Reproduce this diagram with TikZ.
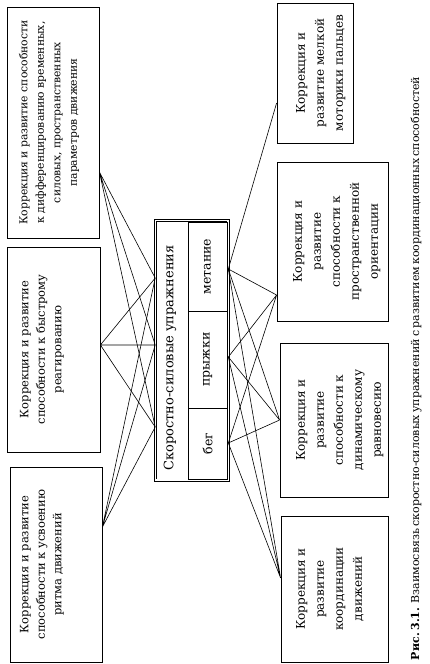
\documentclass[tikz,border=0pt]{standalone}
\usepackage{fontspec}
\setmainfont{DejaVu Serif}
\usetikzlibrary{positioning}

% text set inside a turned box: length, breadth, gap at the top, lines
\newcommand{\boxtext}[4]{\parbox[c][#2pt][t]{#1pt}{\centering\vspace*{#3pt}#4}}

\begin{document}
\begin{tikzpicture}[x=1pt, y=-1pt,
    lskill/.style={rectangle, draw, rotate=90, inner sep=0pt, line width=0.8pt, font=\fontsize{11.5}{16.5}\selectfont},
    rskill/.style={rectangle, draw, rotate=90, inner sep=0pt, line width=0.8pt, font=\fontsize{12}{19}\selectfont},
    frame/.style={rectangle, draw, double, double distance=1.8pt, line width=0.6pt, inner sep=0pt, minimum width=72.5pt, minimum height=259.5pt},
    cell/.style={rectangle, draw, rotate=90, inner sep=0pt, line width=0.6pt, minimum height=39pt, font=\fontsize{12.5}{15}\selectfont},
    link/.style={line width=0.6pt}]

  \useasboundingbox (0,0) rectangle (429,664);

  % left column
  \node[lskill, font=\fontsize{10.8}{16.5}\selectfont] (diff) at (53,122.5) {\boxtext{231}{92}{12}{Коррекция и развитие способности\\ к дифференцированию временных,\\ силовых, пространственных\\ параметров движения}};
  \node[lskill] (react) at (53.5,349.5) {\boxtext{205}{93}{13}{Коррекция и развитие\\ способности к быстрому\\ реагированию}};
  \node[lskill] (rhythm) at (56,564.5) {\boxtext{195}{92}{10}{Коррекция и развитие\\ способности к усвоению\\ ритма движений}};

  % centre
  \node[frame] (core) at (191.75,350.25) {};
  \node[rotate=90, font=\fontsize{13}{15}\selectfont] (title) at (170,358) {Скоростно-силовые упражнения};
  \node[cell, minimum width=89pt] (throw) at (207.5,266.5) {метание};
  \node[cell, minimum width=97pt] (jump) at (207.5,359.5) {прыжки};
  \node[cell, minimum width=71pt] (run) at (207.5,443.5) {бег};

  % right column
  \node[rskill] (fine) at (315,73) {\boxtext{140}{76}{19}{Коррекция и\\ развитие мелкой\\ моторики пальцев}};
  \node[rskill] (orient) at (332.5,241.5) {\boxtext{159}{111}{16}{Коррекция и\\ развитие\\ способности к\\ пространственной\\ ориентации}};
  \node[rskill] (balance) at (334,420) {\boxtext{154}{108}{16}{Коррекция и\\ развитие\\ способности к\\ динамическому\\ равновесию}};
  \node[rskill] (coord) at (334.5,589) {\boxtext{146}{107}{15}{Коррекция и\\ развитие\\ координации\\ движений}};

  % caption
  \node[rotate=90, inner sep=0pt, font=\fontsize{11}{13}\selectfont] (caption) at (416,377.5)
    {\makebox[565pt][s]{\textbf{Рис.~3.1.} Взаимосвязь скоростно-силовых упражнений с развитием координационных способностей}};

  % meeting points
  \coordinate (inA) at ([yshift=72.25pt]core.west);
  \coordinate (inB) at ([yshift=5.25pt]core.west);
  \coordinate (inC) at ([yshift=-76.75pt]core.west);
  \coordinate (outA) at ([yshift=81.25pt]core.east);
  \coordinate (outB) at ([yshift=-6.75pt]core.east);
  \coordinate (outC) at ([yshift=-92.75pt]core.east);

  \coordinate (diffP) at ([yshift=-49.5pt]diff.south);
  \coordinate (reactP) at ([yshift=4.5pt]react.south);
  \coordinate (rhythmP) at ([yshift=37.5pt]rhythm.south);
  \coordinate (fineP) at ([yshift=-30pt]fine.north);
  \coordinate (orientP) at ([yshift=-53.5pt]orient.north);
  \coordinate (balanceP) at (balance.north);
  \coordinate (coordP) at ([yshift=11pt]coord.north);

  \draw[link] (diffP) -- (inA) (diffP) -- (inB) (diffP) -- (inC);
  \draw[link] (reactP) -- (inA) (reactP) -- (inB) (reactP) -- (inC);
  \draw[link] (rhythmP) -- (inA) (rhythmP) -- (inB) (rhythmP) -- (inC);

  \draw[link] (outA) -- (fineP);
  \draw[link] (outA) -- (orientP) (outB) -- (orientP) (outC) -- (orientP);
  \draw[link] (outA) -- (balanceP) (outB) -- (balanceP) (outC) -- (balanceP);
  \draw[link] (outA) -- (coordP) (outB) -- (coordP) (outC) -- (coordP);

\end{tikzpicture}
\end{document}
